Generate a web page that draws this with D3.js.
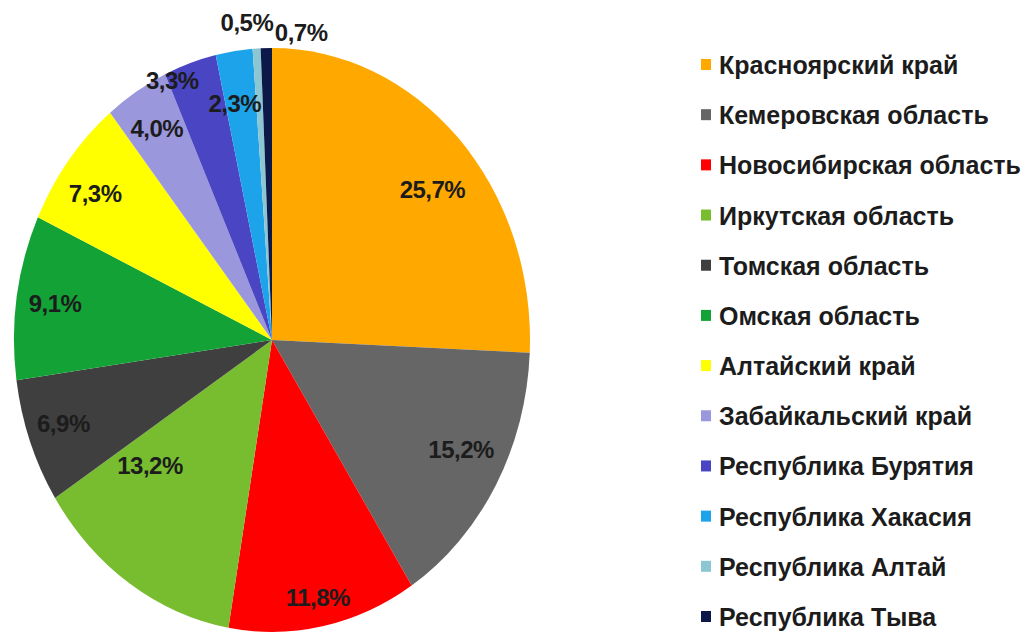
<!DOCTYPE html>
<html>
<head>
<meta charset="utf-8">
<script src="https://cdn.jsdelivr.net/npm/d3@7"></script>
<style>
  body { margin: 0; background: #fff; }
  text { font-family: "Liberation Sans", Arial, sans-serif; }
</style>
</head>
<body>
<svg id="chart" width="1027" height="634"></svg>
<script>
// Regions of the Siberian Federal District and their shares, %
const regions = [
  "Красноярский край",
  "Кемеровская область",
  "Новосибирская область",
  "Иркутская область",
  "Томская область",
  "Омская область",
  "Алтайский край",
  "Забайкальский край",
  "Республика Бурятия",
  "Республика Хакасия",
  "Республика Алтай",
  "Республика Тыва"
];
const shares = [25.7, 15.2, 11.8, 13.2, 6.9, 9.1, 7.3, 4.0, 3.3, 2.3, 0.5, 0.7];
const colors = [
  "#FFA900", "#666666", "#FF0000", "#78BC30", "#3F3F3F", "#12A236",
  "#FFFF00", "#9B97DC", "#4A45C2", "#1CA3E9", "#8CC6D2", "#0B1848"
];
// nudges for the value labels that sit off their default spot (px)
const labelShift = [
  [2, 21], [-1, -14], [2, 14], [-1, -82], [-3, -3], [0, 0],
  [-4, 6], [0, 0], [-30, -24], [-5, 9], [-12, -70], [34, -59]
];

const svg = d3.select("#chart");
const cx = 272, cy = 340, rx = 258, ry = 292;

const items = regions.map((name, i) => ({ name, value: shares[i], color: colors[i], shift: labelShift[i] }));

const pie = d3.pie().sort(null).value(d => d.value);
const arcs = pie(items);
const arc = d3.arc().innerRadius(0).outerRadius(rx);
const labelArc = d3.arc().innerRadius(rx * 0.85).outerRadius(rx * 0.85);

const ruLocale = d3.formatLocale({ decimal: ",", thousands: " ", grouping: [3], currency: ["", " ₽"] });
const fmt = ruLocale.format(".1f");

// slices: drawn as a circle, stretched vertically into the ellipse
svg.append("g")
  .attr("transform", `translate(${cx},${cy}) scale(1,${ry / rx})`)
  .selectAll("path")
  .data(arcs)
  .join("path")
  .attr("d", arc)
  .attr("fill", d => d.data.color);

// value labels
svg.append("g")
  .selectAll("text")
  .data(arcs)
  .join("text")
  .attr("x", d => cx + labelArc.centroid(d)[0] + d.data.shift[0])
  .attr("y", d => cy + labelArc.centroid(d)[1] * ry / rx + d.data.shift[1])
  .attr("text-anchor", "middle")
  .attr("dominant-baseline", "central")
  .attr("font-size", 24)
  .attr("font-weight", "bold")
  .attr("letter-spacing", -0.5)
  .attr("fill", "#1c1c1c")
  .text(d => fmt(d.data.value) + "%");

// legend
const ly = d3.scalePoint().domain(regions).range([64, 616]);
const legend = svg.append("g")
  .selectAll("g")
  .data(items)
  .join("g")
  .attr("transform", d => `translate(701,${ly(d.name)})`);

legend.append("rect")
  .attr("x", 0).attr("y", -5)
  .attr("width", 10).attr("height", 11)
  .attr("fill", d => d.color);

legend.append("text")
  .attr("x", 18)
  .attr("y", 1)
  .attr("dominant-baseline", "central")
  .attr("font-size", 25)
  .attr("font-weight", "bold")
  .attr("fill", "#1c1c1c")
  .text(d => d.name);
</script>
</body>
</html>
